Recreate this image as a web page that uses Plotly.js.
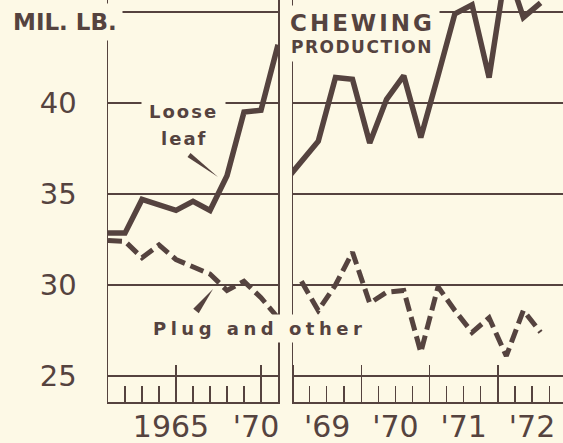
<!DOCTYPE html>
<html><head><meta charset="utf-8">
<script src="https://cdn.plot.ly/plotly-3.0.1.min.js"></script>
<style>html,body{margin:0;padding:0;background:#fdf9e6;}#chart{width:563px;height:443px;}</style>
</head><body><div id="chart"></div>
<script>
// ---- data (million lb.) ----
const years = [1961, 1962, 1963, 1964, 1965, 1966, 1967, 1968, 1969, 1970, 1971];
const looseAnnual = [32.85, 32.85, 34.7, 34.4, 34.1, 34.6, 34.1, 36.0, 39.5, 39.6, 43.2];
const plugAnnual  = [32.45, 32.4, 31.5, 32.2, 31.4, 31.0, 30.6, 29.7, 30.2, 29.3, 28.2];

// quarterly (mid-quarter dates), Q4 1968 .. Q3 1972
const quarters = ['1968-11-15',
  '1969-02-15','1969-05-16','1969-08-16','1969-11-15',
  '1970-02-15','1970-05-16','1970-08-16','1970-11-15',
  '1971-02-15','1971-05-16','1971-08-16','1971-11-15',
  '1972-02-15','1972-05-16','1972-08-16'];
const looseQuarterly = [35.65, 36.75, 37.9, 41.4, 41.3, 37.8, 40.2, 41.5, 38.1, 41.5, 44.9, 45.4, 41.4, 47.5, 44.7, 45.5];
const plugQuarterly  = [null, 30.2, 28.6, 30.0, 31.8, 29.0, 29.6, 29.7, 26.3, 29.9, 28.6, 27.4, 28.2, 26.1, 28.6, 27.4];

const yTickVals = [25, 30, 35, 40, 45];
const yTickText = ['25', '30', '35', '40', ''];
const leftTickVals = [1965, 1970];
const leftTickText = ['1965', "'70"];

// ---- styling ----
const BG = '#fdf9e6', INK = '#55433f';
const L = 108, B = 402, PW = 563 - 108, PH = 402;
const px = x => (x - L) / PW;
const py = y => (B - y) / PH;

const solid = {color: INK, width: 5.5};
const dashed = {color: INK, width: 5, dash: '14px,6px'};

const traces = [
  {x: years, y: looseAnnual, mode: 'lines', line: solid, xaxis: 'x', yaxis: 'y', hoverinfo: 'skip'},
  {x: years, y: plugAnnual, mode: 'lines', line: dashed, xaxis: 'x', yaxis: 'y', hoverinfo: 'skip'},
  {x: quarters, y: looseQuarterly, mode: 'lines', line: solid, xaxis: 'x2', yaxis: 'y2', hoverinfo: 'skip'},
  {x: quarters, y: plugQuarterly, mode: 'lines', line: dashed, xaxis: 'x2', yaxis: 'y2', hoverinfo: 'skip', connectgaps: false}
];

const FONT = 'DejaVu Sans';
const yRange = [23.57, 45.66];
const axisCommon = {zeroline: false, linecolor: INK, linewidth: 1.5, tickcolor: INK, tickwidth: 1.3, fixedrange: true};

function ls(txt, sp) { return '<span style="letter-spacing:' + sp + 'px">' + txt + '</span>'; }
function ann(text, x, y, size, opts) {
  return Object.assign({xref: 'paper', yref: 'paper', x: px(x), y: py(y), text: text, showarrow: false,
    font: {family: FONT, size: size, color: INK}, bgcolor: BG, borderpad: 2,
    xanchor: 'center', yanchor: 'middle'}, opts || {});
}
function wedge(x1, y1, x2, y2, w) {
  const dx = x2 - x1, dy = y2 - y1, len = Math.hypot(dx, dy);
  const nx = -dy / len * w / 2, ny = dx / len * w / 2;
  const p = (a, b) => px(a) + ',' + py(b);
  return {type: 'path', xref: 'paper', yref: 'paper', fillcolor: INK, line: {width: 0},
    path: 'M' + p(x1 + nx, y1 + ny) + ' L' + p(x2, y2) + ' L' + p(x1 - nx, y1 - ny) + ' Z'};
}

const layout = {
  width: 563, height: 443,
  margin: {l: 108, r: 0, t: 0, b: 41, pad: 0},
  paper_bgcolor: BG, plot_bgcolor: BG, showlegend: false,
  font: {family: FONT, color: INK},
  xaxis: Object.assign({}, axisCommon, {
    domain: [0, 170 / 455], range: [1961, 1971], anchor: 'y',
    tickmode: 'array', tickvals: leftTickVals, ticktext: leftTickText,
    ticks: 'inside', ticklen: 37, showgrid: false, showline: true,
    tickfont: {family: FONT, size: 30, color: INK}, ticklabelshift: -5, ticklabelstandoff: -3,
    minor: {tick0: 1961, dtick: 1, ticks: 'inside', ticklen: 16, tickwidth: 1.2, tickcolor: INK, showgrid: false}
  }),
  xaxis2: Object.assign({}, axisCommon, {
    domain: [185 / 455, 1], type: 'date', range: ['1969-01-01', '1972-12-14'], anchor: 'y2',
    tick0: '1969-01-01', dtick: 'M12', tickformat: "'%y", ticklabelmode: 'period',
    ticks: 'inside', ticklen: 37, showgrid: false, showline: true,
    tickfont: {family: FONT, size: 30, color: INK}, ticklabelstandoff: -3,
    minor: {dtick: 'M3', ticks: 'inside', ticklen: 16, tickwidth: 1.2, tickcolor: INK, showgrid: false}
  }),
  yaxis: Object.assign({}, axisCommon, {
    domain: [0, 1], range: yRange, anchor: 'x',
    tickmode: 'array', tickvals: yTickVals, ticktext: yTickText, ticks: '',
    showgrid: true, gridcolor: INK, gridwidth: 1.5, showline: true, mirror: true,
    tickfont: {family: FONT, size: 29, color: INK}, ticklabelstandoff: 24
  }),
  yaxis2: Object.assign({}, axisCommon, {
    domain: [0, 1], range: yRange, anchor: 'x2',
    tickmode: 'array', tickvals: yTickVals, ticks: '', showticklabels: false,
    showgrid: true, gridcolor: INK, gridwidth: 1.5, showline: true, mirror: false
  }),
  annotations: [
    ann('<b>MIL. LB.</b>', 65, 22, 23, {borderpad: 5}),
    ann('<b>' + ls('CHEWING', 3) + '</b>', 362, 23, 23, {borderpad: 4}),
    ann('<b>' + ls('PRODUCTION', 1.5) + '</b>', 362, 47, 17, {borderpad: 4}),
    ann('<b>' + ls('Loose', 2) + '</b>', 183, 111, 18, {borderpad: 7}),
    ann('<b>' + ls('leaf', 2) + '</b>', 184, 138, 18, {borderpad: 2}),
    ann('<b>' + ls('Plug and other', 4.5) + '</b>', 259, 328, 18, {borderpad: 3})
  ],
  shapes: [
    wedge(189, 155, 218, 177, 5),
    wedge(196, 311, 213, 289, 7)
  ]
};

Plotly.newPlot('chart', traces, layout, {staticPlot: true, displayModeBar: false});
</script>
</body></html>
